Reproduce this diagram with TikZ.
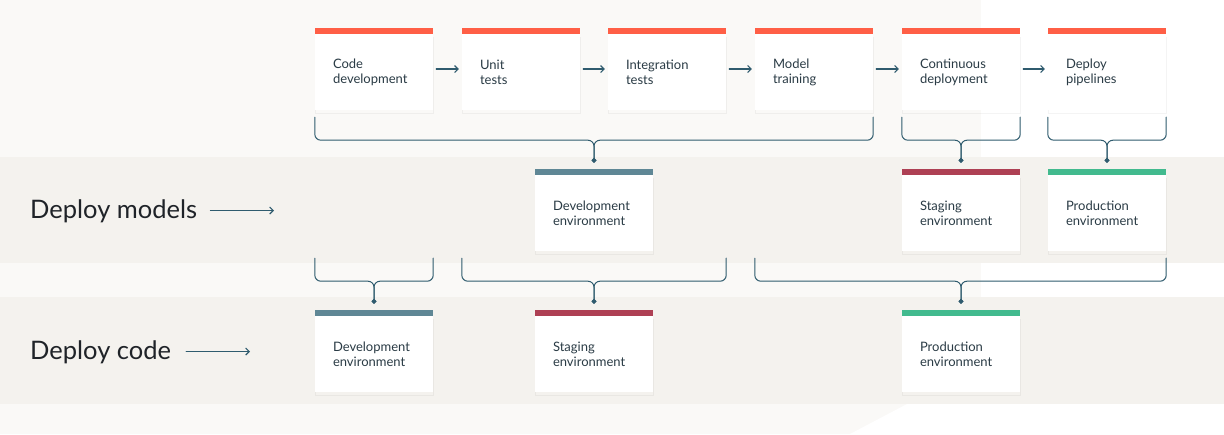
\documentclass[tikz,border=0pt]{standalone}
\usepackage{fontspec}
\setmainfont{Lato}
\usepackage{tikz}
\usetikzlibrary{calc}
\usetikzlibrary{arrows.meta}
\definecolor{pagebg}{HTML}{FAF9F7}
\definecolor{bandbg}{HTML}{F4F2EE}
\definecolor{inkline}{HTML}{2F5B6E}
\definecolor{cardtext}{HTML}{2A3B45}
\definecolor{labeltext}{HTML}{1F2328}
\definecolor{barorange}{HTML}{FF5F46}
\definecolor{barslate}{HTML}{5F8795}
\definecolor{barred}{HTML}{AE4054}
\definecolor{bargreen}{HTML}{42BA8E}

\begin{document}
\begin{tikzpicture}[x=1pt, y=-1pt, line cap=round, line join=round,
  glow/.style={preaction={draw=black, draw opacity=#1, transform canvas={yshift=-3pt}}},
  card/.style={fill=white, minimum width=118pt, minimum height=76pt, text width=82pt,
    inner xsep=18pt, inner ysep=0pt, align=left, text=cardtext,
    font=\fontsize{13}{15}\selectfont,
    glow=0.012, preaction={line width=16pt}, glow=0.014, preaction={line width=10pt},
    glow=0.016, preaction={line width=5pt}},
  rowlabel/.style={anchor=base west, inner sep=0pt, text=labeltext, font=\fontsize{25.5}{30}\selectfont},
  flow/.style={-{Straight Barb[length=3.5pt,width=7pt]}, line width=1.1pt, inkline},
  brace/.style={rounded corners=6pt, line width=1pt, inkline, -{Diamond[length=5pt,width=5pt]}}]
  \useasboundingbox (0,0) rectangle (1224,434);
  %--- Background
    \fill[pagebg] (0,0) rectangle (1224,434);
    \fill[white] (981,0) -- (1224,0) -- (1224,434) -- (850,434) -- (907,404) -- (981,404) -- cycle;
    \fill[bandbg] (0,157) rectangle (1224,263);
    \fill[bandbg] (0,297) rectangle (1224,404);
  %--- Pipeline steps
    \foreach \n/\x/\t in {code/374/{Code\\development}, unit/521/{Unit\\tests},
      integ/667/{Integration\\tests}, train/814/{Model\\training},
      cdep/961/{Continuous\\deployment}, pipe/1107/{Deploy\\pipelines}}
      \node[card] (\n) at (\x,72) {\t};
  %--- Deploy models row
    \node[card] (devm) at (594,213) {Development\\environment};
    \node[card] (stm) at (961,213) {Staging\\environment};
    \node[card] (prm) at (1107,213) {Production\\environment};
  %--- Deploy code row
    \node[card] (devc) at (374,354) {Development\\environment};
    \node[card] (stc) at (594,354) {Staging\\environment};
    \node[card] (prc) at (961,354) {Production\\environment};
  %--- Colour bars
    \foreach \n/\c in {code/barorange, unit/barorange, integ/barorange, train/barorange,
      cdep/barorange, pipe/barorange, devm/barslate, stm/barred, prm/bargreen,
      devc/barslate, stc/barred, prc/bargreen}
      \fill[\c] (\n.north west) rectangle ([yshift=6pt]\n.north east);
  %--- Step arrows
    \foreach \a/\b in {code/unit, unit/integ, integ/train, train/cdep, cdep/pipe}
      \draw[flow] ([shift={(3pt,3pt)}]\a.east) -- ([shift={(-3pt,3pt)}]\b.west);
  %--- Row labels
    \node[rowlabel] (dmodels) at (30,218) {Deploy models};
    \coordinate (dmend) at (274,210.5);
    \draw[flow] (dmodels.east |- dmend) ++(13,0) -- (dmend);
    \node[rowlabel] (dcode) at (30,359) {Deploy code};
    \coordinate (dcend) at (250,351.5);
    \draw[flow] (dcode.east |- dcend) ++(15,0) -- (dcend);
  %--- Steps to model environments
    \coordinate (j1) at ($(devm.north |- code.south)+(0,30)$);
    \draw[brace] ($(code.south west)+(0,7)$) |- (j1) -- ([yshift=12pt]devm.north);
    \draw[brace] ($(train.south east)+(0,7)$) |- (j1) -- ([yshift=12pt]devm.north);
    \coordinate (j2) at ($(stm.north |- cdep.south)+(0,30)$);
    \draw[brace] ($(cdep.south west)+(0,7)$) |- (j2) -- ([yshift=12pt]stm.north);
    \draw[brace] ($(cdep.south east)+(0,7)$) |- (j2) -- ([yshift=12pt]stm.north);
    \coordinate (j3) at ($(prm.north |- pipe.south)+(0,30)$);
    \draw[brace] ($(pipe.south west)+(0,7)$) |- (j3) -- ([yshift=12pt]prm.north);
    \draw[brace] ($(pipe.south east)+(0,7)$) |- (j3) -- ([yshift=12pt]prm.north);
  %--- Model row to code environments
    \coordinate (j4) at ($(devc.north |- devm.south)+(0,30)$);
    \draw[brace] ($(devc.north west |- devm.south)+(0,7)$) |- (j4) -- ([yshift=12pt]devc.north);
    \draw[brace] ($(devc.north east |- devm.south)+(0,7)$) |- (j4) -- ([yshift=12pt]devc.north);
    \coordinate (j5) at ($(stc.north |- devm.south)+(0,30)$);
    \draw[brace] ($(unit.south west |- devm.south)+(0,7)$) |- (j5) -- ([yshift=12pt]stc.north);
    \draw[brace] ($(integ.south east |- devm.south)+(0,7)$) |- (j5) -- ([yshift=12pt]stc.north);
    \coordinate (j6) at ($(prc.north |- devm.south)+(0,30)$);
    \draw[brace] ($(train.south west |- devm.south)+(0,7)$) |- (j6) -- ([yshift=12pt]prc.north);
    \draw[brace] ($(prm.south east)+(0,7)$) |- (j6) -- ([yshift=12pt]prc.north);
\end{tikzpicture}
\end{document}
